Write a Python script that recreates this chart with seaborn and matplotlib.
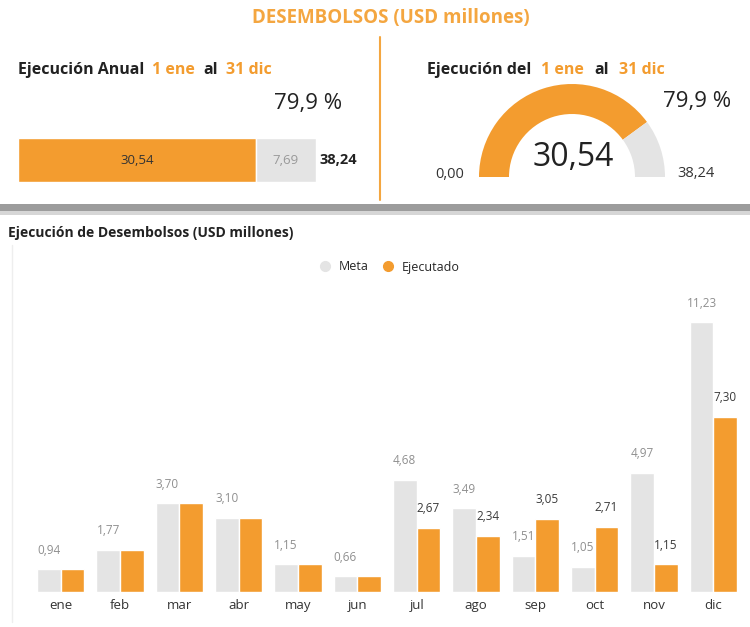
import numpy as np
import pandas as pd
import matplotlib
matplotlib.use("Agg")
import matplotlib.pyplot as plt
from matplotlib.patches import Wedge, Rectangle
from matplotlib.lines import Line2D
import seaborn as sns

meses = ["ene", "feb", "mar", "abr", "may", "jun", "jul", "ago", "sep", "oct", "nov", "dic"]
meta = [0.94, 1.77, 3.70, 3.10, 1.15, 0.66, 4.68, 3.49, 1.51, 1.05, 4.97, 11.23]
ejecutado = [0.94, 1.77, 3.70, 3.10, 1.15, 0.66, 2.67, 2.34, 3.05, 2.71, 1.15, 7.30]
total_meta = 38.24
total_ejecutado = 30.54
pendiente = 7.69

naranja = "#F39C2F"
gris = "#E4E4E4"
titulo_col = "#F4A640"

sns.set_theme(style="white")
plt.rcParams["font.family"] = ["Open Sans", "DejaVu Sans"]

W, H = 750, 627
fig = plt.figure(figsize=(7.5, 6.27), dpi=100)
renderer = fig.canvas.get_renderer()


def px(x, y):
    return x / W, 1 - y / H


def box(x0, y0, x1, y1):
    return [x0 / W, 1 - y1 / H, (x1 - x0) / W, (y1 - y0) / H]


def fmt(v, d=2):
    return f"{v:.{d}f}".replace(".", ",")


def encabezado(x, y, piezas, gap=8):
    # place the pieces one after another
    for s, c in piezas:
        t = fig.text(*px(x, y), s, color=c, fontsize=11.5, fontweight="bold", ha="left", va="center")
        x = t.get_window_extent(renderer).x1 + gap


pct = total_ejecutado / total_meta * 100

# Header
fig.text(*px(391, 18), "DESEMBOLSOS (USD millones)", color=titulo_col, fontsize=13.5,
         fontweight="bold", ha="center", va="center")
fig.add_artist(Line2D([380 / W, 380 / W], [1 - 37 / H, 1 - 200 / H], color=titulo_col, lw=1.5))
fig.add_artist(Rectangle((0, 1 - 211 / H), 1, 7 / H, color="#9c9c9c", lw=0))
fig.add_artist(Rectangle((0, 1 - 215 / H), 1, 4 / H, color="#d6d6d6", lw=0))

encabezado(18, 70, [("Ejecución Anual", "#222222"), ("1 ene", naranja), ("al", "#222222"), ("31 dic", naranja)])
encabezado(427, 70, [("Ejecución del", "#222222"), ("1 ene", naranja), ("al", "#222222"), ("31 dic", naranja)], gap=10)

# Left: stacked horizontal bar
ax_b = fig.add_axes(box(18, 138, 316, 182))
ax_b.barh([0], [total_ejecutado], height=1, color=naranja)
ax_b.barh([0], [pendiente], left=[total_ejecutado], height=1, color=gris)
ax_b.set_xlim(0, total_meta)
ax_b.set_ylim(-0.5, 0.5)
ax_b.axis("off")
ax_b.text(total_ejecutado / 2, 0, fmt(total_ejecutado), ha="center", va="center", fontsize=9.5, color="#333333")
ax_b.text(total_ejecutado + pendiente / 2, 0, fmt(pendiente), ha="center", va="center", fontsize=9.5, color="#999999")
fig.text(*px(320, 160), fmt(total_meta), fontsize=10.5, fontweight="bold", color="#222222", ha="left", va="center")
fig.text(*px(308, 104), fmt(pct, 1) + " %", fontsize=16, color="#222222", ha="center", va="center")

# Right: gauge
ax_g = fig.add_axes(box(472, 70, 672, 190))
ax_g.set_xlim(-100, 100)
ax_g.set_ylim(-13, 107)
ang = 180 - 180 * total_ejecutado / total_meta
ax_g.add_patch(Wedge((0, 0), 93, ang, 180, width=30, color=naranja, lw=0))
ax_g.add_patch(Wedge((0, 0), 93, 0, ang, width=30, color=gris, lw=0))
ax_g.axis("off")
fig.text(*px(573, 157), fmt(total_ejecutado), fontsize=23, color="#222222", ha="center", va="center")
fig.text(*px(435, 174), fmt(0), fontsize=10.5, color="#333333", ha="left", va="center")
fig.text(*px(677, 173), fmt(total_meta), fontsize=10.5, color="#333333", ha="left", va="center")
fig.text(*px(697, 102), fmt(pct, 1) + " %", fontsize=16, color="#222222", ha="center", va="center")

# Bottom: monthly bars
fig.text(*px(8, 233), "Ejecución de Desembolsos (USD millones)", fontsize=10, fontweight="bold",
         color="#222222", ha="left", va="center")
fig.add_artist(Line2D([12 / W, 12 / W], [1 - 245 / H, 1 - 622 / H], color="#eeeeee", lw=1))

df = pd.DataFrame({
    "mes": meses * 2,
    "valor": meta + ejecutado,
    "serie": ["Meta"] * len(meses) + ["Ejecutado"] * len(meses),
})

ax = fig.add_axes(box(31, 280, 743, 592))
sns.barplot(data=df, x="mes", y="valor", hue="serie", palette=[gris, naranja],
            width=0.8, ax=ax, legend=False, saturation=1)
ax.set_xlim(-0.5, 11.5)
ax.set_ylim(0, 13)
ax.set_xlabel("")
ax.set_ylabel("")
ax.set_yticks([])
sns.despine(ax=ax, left=True, bottom=True)
ax.tick_params(axis="x", length=0, labelsize=9.5, colors="#333333", pad=5)

ax.bar_label(ax.containers[0], labels=[fmt(v) for v in meta], padding=9, fontsize=8.5, color="#8f8f8f")
ax.bar_label(ax.containers[1], labels=[fmt(e) if e != m else "" for m, e in zip(meta, ejecutado)],
             padding=9, fontsize=8.5, color="#3a3a3a")

handles = [Line2D([], [], marker="o", ls="", color=gris, markersize=7),
           Line2D([], [], marker="o", ls="", color=naranja, markersize=7)]
fig.legend(handles, ["Meta", "Ejecutado"], loc="center", bbox_to_anchor=px(386, 267), ncol=2,
           frameon=False, fontsize=9, handletextpad=0.1, columnspacing=0.5, borderpad=0)

fig.savefig("out.png", dpi=100)
